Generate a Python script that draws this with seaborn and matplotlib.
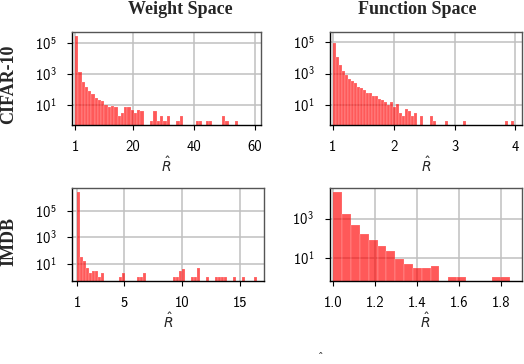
import numpy as np
import pandas as pd
import seaborn as sns
import matplotlib.pyplot as plt
from matplotlib.ticker import FixedLocator, NullLocator, FormatStrFormatter

# histogram counts (equal-width bins between lo and hi)
cifar_weight_range = (1.0, 54.6)
cifar_weight_counts = [
    270000, 1300, 320, 150, 80, 50, 28, 20, 18, 10,
    7, 9, 8, 2, 3, 8, 8, 5, 3, 5,
    4, 0, 0, 1, 4, 1, 2, 1, 2, 0,
    0, 1, 2, 0, 0, 0, 0, 1, 1, 0,
    1, 1, 0, 0, 0, 2, 1, 0, 0, 1,
]

cifar_func_range = (1.0, 3.98)
cifar_func_counts = [
    87000, 12000, 3400, 1400, 780, 480, 350, 260, 145, 130,
    90, 63, 55, 40, 38, 24, 21, 16, 10, 15,
    8, 12, 3, 2, 6, 4, 2, 3, 0, 2,
    0, 0, 2, 1, 0, 0, 0, 1, 0, 0,
    0, 0, 0, 1, 0, 0, 0, 0, 0, 0,
    0, 0, 0, 0, 0, 0, 0, 1, 0, 1,
]

imdb_weight_range = (1.0, 16.45)
imdb_weight_counts = [
    3000000, 35, 16, 5, 2, 3, 3, 1, 2, 0,
    0, 0, 0, 0, 1, 2, 0, 0, 0, 0,
    1, 1, 2, 0, 0, 0, 0, 0, 0, 0,
    0, 0, 1, 1, 3, 4, 0, 0, 1, 1,
    5, 0, 0, 1, 0, 0, 1, 1, 1, 1,
    0, 0, 1, 0, 0, 1, 0, 0, 0, 1,
]

imdb_func_range = (1.0, 1.845)
imdb_func_counts = [22000, 1660, 460, 160, 79, 41, 21, 9, 5, 3,
                    3, 4, 0, 1, 1, 0, 0, 0, 1, 1]

col_titles = ["Weight Space", "Function Space"]
row_titles = ["CIFAR-10", "IMDB"]

sns.set_theme(style="whitegrid")
plt.rcParams["font.family"] = ["cmss10", "DejaVu Sans"]
plt.rcParams["mathtext.fontset"] = "dejavusans"
plt.rcParams["axes.formatter.use_mathtext"] = True

W, H = 524, 364
fig = plt.figure(figsize=(W / 100, H / 100), dpi=100)


def add_ax(x0, y0, x1, y1):
    return fig.add_axes([x0 / W, 1 - y1 / H, (x1 - x0) / W, (y1 - y0) / H])


def draw(ax, rng, counts, xticks, yticks, xlim, ylim, fmt="%d"):
    nb = len(counts)
    width = (rng[1] - rng[0]) / nb
    df = pd.DataFrame({"R": rng[0] + width * (np.arange(nb) + 0.5),
                       "n": counts})
    sns.histplot(data=df, x="R", weights="n", bins=nb, binrange=rng, ax=ax,
                 color="red", alpha=0.65, edgecolor=(1, 1, 1, 0.45),
                 linewidth=0.3)
    ax.set_yscale("log")
    ax.set_xlim(*xlim)
    ax.set_ylim(*ylim)
    ax.xaxis.set_major_locator(FixedLocator(xticks))
    ax.xaxis.set_major_formatter(FormatStrFormatter(fmt))
    ax.yaxis.set_major_locator(FixedLocator(yticks))
    ax.yaxis.set_minor_locator(NullLocator())
    ax.set_ylabel("")
    ax.set_xlabel(r"$\hat{R}$", fontsize=10, labelpad=1)
    ax.set_axisbelow(True)
    ax.grid(True, color="#c0c0c0", linewidth=1.1)
    ax.tick_params(axis="both", labelsize=10.5, length=3.5, width=0.8,
                   color="black", labelcolor="black")
    ax.tick_params(axis="x", pad=7.5, bottom=True)
    ax.tick_params(axis="y", pad=7.5, left=True)
    for side in ["left", "bottom"]:
        ax.spines[side].set_color("black")
        ax.spines[side].set_linewidth(1.0)
    for side in ["top", "right"]:
        ax.spines[side].set_color("#555555")
        ax.spines[side].set_linewidth(1.0)


ax1 = add_ax(72, 32, 261, 125)
draw(ax1, cifar_weight_range, cifar_weight_counts, [1, 20, 40, 60],
     [1e1, 1e3, 1e5], (0.0, 62), (0.52, 5e5))

ax2 = add_ax(330, 32, 521.5, 125)
draw(ax2, cifar_func_range, cifar_func_counts, [1, 2, 3, 4],
     [1e1, 1e3, 1e5], (0.955, 4.1), (0.55, 4.3e5))

ax3 = add_ax(72, 188, 264, 281)
draw(ax3, imdb_weight_range, imdb_weight_counts, [1, 5, 10, 15],
     [1e1, 1e3, 1e5], (0.57, 17.04), (0.48, 5.9e6))

ax4 = add_ax(329.5, 188, 521.5, 281)
draw(ax4, imdb_func_range, imdb_func_counts, [1.0, 1.2, 1.4, 1.6, 1.8],
     [1e1, 1e3], (0.981, 1.90), (0.65, 3.6e4), fmt="%.1f")

serif = dict(family="Liberation Serif", fontweight="bold", fontsize=13)
fig.text(180 / W, 1 - 10 / H, col_titles[0], ha="center", va="center", **serif)
fig.text(417 / W, 1 - 10 / H, col_titles[1], ha="center", va="center", **serif)
fig.text(9 / W, 1 - 84 / H, row_titles[0], ha="center", va="center",
         rotation=90, **serif)
fig.text(9 / W, 1 - 242 / H, row_titles[1], ha="center", va="center",
         rotation=90, **serif)

# only the hat of a caption label shows at the bottom edge
fig.text(321 / W, 1.2 / H, "\u02c6", ha="center", va="bottom",
         fontsize=8, family="DejaVu Sans")

fig.savefig("out.png", dpi=100)
